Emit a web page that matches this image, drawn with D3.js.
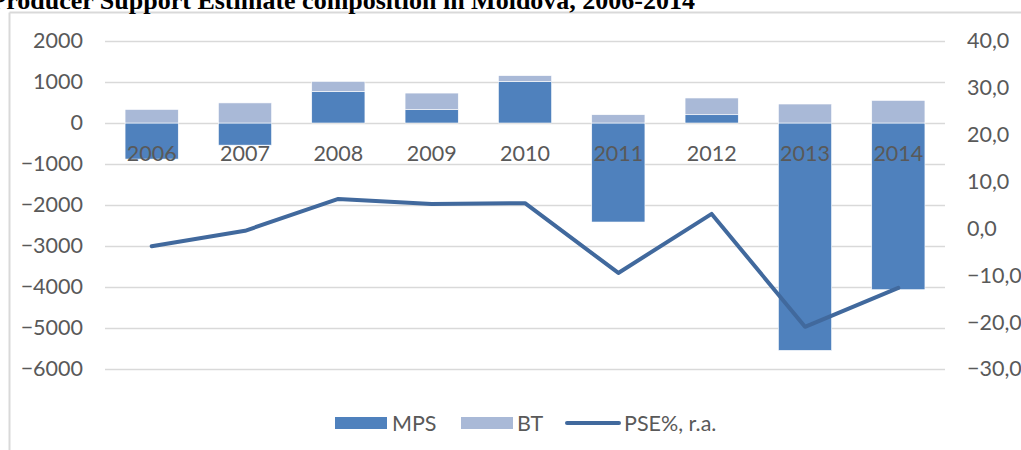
<!DOCTYPE html>
<html>
<head>
<meta charset="utf-8">
<script src="https://cdnjs.cloudflare.com/ajax/libs/d3/7.8.5/d3.min.js"></script>
<style>
  body { margin: 0; background: #fff; }
  svg text { font-family: Lato, "Liberation Sans", sans-serif; fill: #595959; }
  svg text.title { font-family: "Liberation Serif", "Times New Roman", serif; font-weight: bold; fill: #000; }
</style>
</head>
<body>
<div id="chart"></div>
<script>
// PSE composition, Moldova
var years = ["2006", "2007", "2008", "2009", "2010", "2011", "2012", "2013", "2014"];
var mps = [-880, -540, 770, 325, 1015, -2415, 202, -5546, -4066];
var bt = [330, 490, 245, 405, 140, 202, 408, 463, 551];
var pse = [-3.8, -0.5, 6.3, 5.2, 5.4, -9.5, 3.1, -21.0, -12.7];
var leftTicks = [2000, 1000, 0, -1000, -2000, -3000, -4000, -5000, -6000];
var rightTicks = [40, 30, 20, 10, 0, -10, -20, -30];
var seriesNames = ["MPS", "BT", "PSE%, r.a."];

var width = 1021, height = 450;
var plot = { left: 105, right: 945, top: 41, bottom: 369 };
var colMPS = "#4f81bd", colBT = "#a9b9d7", colLine = "#41699d";

var svg = d3.select("#chart").append("svg")
    .attr("width", width).attr("height", height);

// chart frame (only the left & top edges are in view)
svg.append("line").attr("x1", 9.5).attr("y1", 12.5).attr("x2", width).attr("y2", 12.5)
    .style("stroke", "#d9d9d9").style("stroke-width", 2);
svg.append("line").attr("x1", 9.5).attr("y1", 12.5).attr("x2", 9.5).attr("y2", height)
    .style("stroke", "#d9d9d9").style("stroke-width", 2);

svg.append("text").attr("class", "title")
    .attr("x", 695).attr("y", 9)
    .attr("text-anchor", "end")
    .style("font-size", "26px")
    .text("Producer Support Estimate composition in Moldova, 2006-2014");

var x = d3.scaleBand().domain(years).range([plot.left, plot.right]).paddingInner(0.43).paddingOuter(0.215);
var y = d3.scaleLinear().domain([-6000, 2000]).range([plot.bottom, plot.top]);
var y2 = d3.scaleLinear().domain([-30, 40]).range([plot.bottom, plot.top]);

// gridlines
svg.append("g").selectAll("line").data(leftTicks).enter().append("line")
    .attr("x1", plot.left).attr("x2", plot.right)
    .attr("y1", function(d){ return Math.round(y(d)) + 0.5; })
    .attr("y2", function(d){ return Math.round(y(d)) + 0.5; })
    .style("stroke", "#d9d9d9").style("stroke-width", 1.5);

// left axis
var yAxis = d3.axisLeft(y).tickValues(leftTicks).tickSize(0).tickPadding(0).tickFormat(d3.format("d"));
var gy = svg.append("g").attr("transform", "translate(83,0)").call(yAxis);
gy.select(".domain").remove();
gy.selectAll("text").style("font-size", "21.5px").style("fill", "#595959").style("font-family", null);

// right axis
var y2Axis = d3.axisRight(y2).tickValues(rightTicks).tickSize(0).tickPadding(0)
    .tickFormat(function(d){ return d3.format(".1f")(d).replace(".", ","); });
var gy2 = svg.append("g").attr("transform", "translate(967,0)").call(y2Axis);
gy2.select(".domain").remove();
gy2.selectAll("text").style("font-size", "21.5px").style("fill", "#595959").style("font-family", null);

// stacked bars: negatives go down from 0, positives go up
var bw = x.bandwidth();
svg.append("g").selectAll("rect").data(years).enter().append("rect")
    .attr("x", function(d){ return x(d); })
    .attr("width", bw)
    .attr("y", function(d, i){ return y(Math.max(0, mps[i])); })
    .attr("height", function(d, i){ return Math.abs(y(mps[i]) - y(0)); })
    .style("fill", colMPS).style("stroke", "#fff").style("stroke-width", 0.6);

svg.append("g").selectAll("rect").data(years).enter().append("rect")
    .attr("x", function(d){ return x(d); })
    .attr("width", bw)
    .attr("y", function(d, i){ var base = Math.max(0, mps[i]); return y(base + bt[i]); })
    .attr("height", function(d, i){ return Math.abs(y(bt[i]) - y(0)); })
    .style("fill", colBT).style("stroke", "#fff").style("stroke-width", 0.6);

// category labels sit just under the zero line, over the bars
var xAxis = d3.axisBottom(x).tickSize(0).tickPadding(0);
var gx = svg.append("g").attr("transform", "translate(0,146)").call(xAxis);
gx.select(".domain").remove();
gx.selectAll("text").style("font-size", "21.5px").style("fill", "#595959").style("font-family", null);

// PSE line on the secondary axis
var line = d3.line()
    .x(function(d, i){ return x(years[i]) + bw / 2; })
    .y(function(d){ return y2(d); });
svg.append("path").datum(pse).attr("d", line)
    .style("fill", "none").style("stroke", colLine).style("stroke-width", 4)
    .style("stroke-linejoin", "round").style("stroke-linecap", "round");

// legend
var lg = svg.append("g").attr("transform", "translate(0,423)");
lg.append("rect").attr("x", 335).attr("y", -6).attr("width", 52).attr("height", 12).style("fill", colMPS);
lg.append("text").attr("x", 392).attr("y", 0).attr("dy", "0.35em").style("font-size", "21.5px").text(seriesNames[0]);
lg.append("rect").attr("x", 461).attr("y", -6).attr("width", 52).attr("height", 12).style("fill", colBT);
lg.append("text").attr("x", 517).attr("y", 0).attr("dy", "0.35em").style("font-size", "21.5px").text(seriesNames[1]);
lg.append("line").attr("x1", 567).attr("x2", 619).attr("y1", 0).attr("y2", 0)
    .style("stroke", colLine).style("stroke-width", 4).style("stroke-linecap", "round");
lg.append("text").attr("x", 624).attr("y", 0).attr("dy", "0.35em").style("font-size", "21.5px").text(seriesNames[2]);
</script>
</body>
</html>
